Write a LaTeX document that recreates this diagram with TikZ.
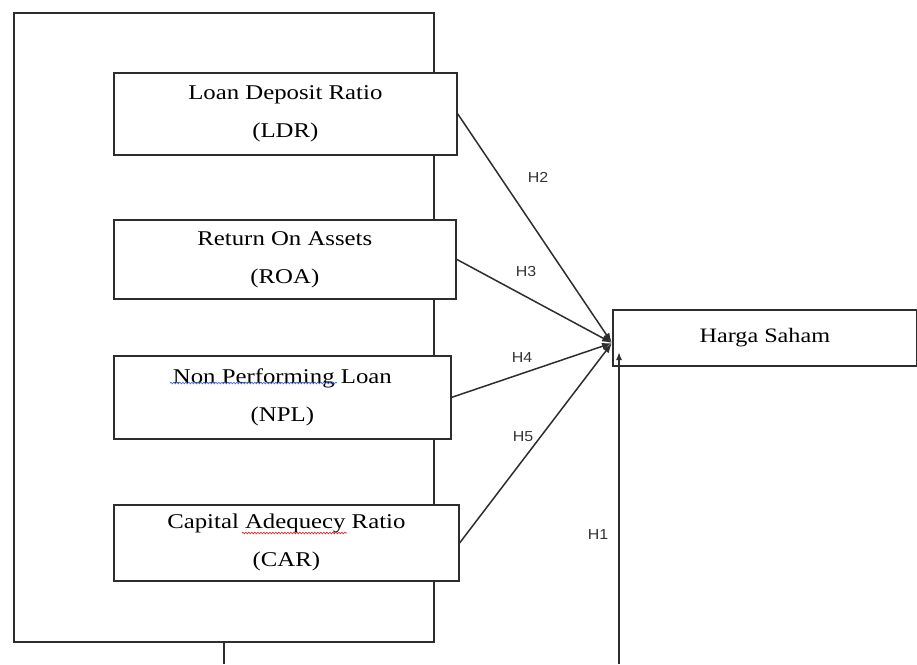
\documentclass[tikz,border=0pt]{standalone}
\usepackage{fontspec}
\setmainfont{Liberation Serif}
\newfontfamily\boxfont{Liberation Serif}[FakeStretch=1.18]
\newfontfamily\labfont{Liberation Sans}[FakeStretch=1.1]
\usepackage{tikz}
\usetikzlibrary{arrows.meta,positioning,decorations.pathmorphing}
\definecolor{linegray}{RGB}{45,45,45}
\definecolor{squigblue}{RGB}{70,110,210}
\definecolor{squigred}{RGB}{215,45,45}

\begin{document}
\begin{tikzpicture}[x=1pt,y=-1pt,
  varbox/.style={draw=linegray,line width=1.7pt,anchor=north west,inner sep=0pt,align=center,
                 font=\boxfont\fontsize{21}{38}\selectfont},
  hyp/.style={draw=linegray,line width=1.5pt,-{Latex[length=10pt,width=7pt]}},
  hlab/.style={font=\labfont\fontsize{14.5}{16}\selectfont,text=black!80}]
  \useasboundingbox (0,0) rectangle (917,664);

  % ---- outer frame ----
  \node[draw=linegray,line width=1.7pt,anchor=north west,inner sep=0pt,
        minimum width=420,minimum height=629] (outer) at (13,12) {};
  \coordinate (h1foot) at (619,664);
  \coordinate (outfoot) at (outer.south |- h1foot);
  \draw[linegray,line width=1.7pt] (outer.south) -- (outfoot);

  % ---- independent variables ----
  \foreach \nm/\y/\w/\h/\first/\second in {ldr/72/343/82/{Loan Deposit Ratio}/LDR,
                                           roa/219/342/79/{Return On Assets}/ROA,
                                           npl/355/337/83/{Non Performing Loan}/NPL,
                                           car/504/345/76/{Capital Adequecy Ratio}/CAR}{
    \node[varbox,fill=white,minimum width=\w,minimum height=\h] (\nm) at (113,\y) {\first\\(\second)};
  }
  % spell-check marks
  \draw[squigblue,line width=0.7pt,decorate,decoration={snake,amplitude=0.8pt,segment length=3pt}]
    (170,383) -- (337,383);
  \draw[squigred,line width=0.7pt,decorate,decoration={snake,amplitude=0.8pt,segment length=3pt}]
    (242,533) -- (347,533);

  % ---- dependent variable ----
  \node[varbox,minimum width=304,minimum height=56,font=\boxfont\fontsize{20.5}{24}\selectfont]
    (hs) at (612,309) {\raisebox{3pt}{Harga Saham}};
  \coordinate (tip) at (612,343);

  % ---- hypotheses ----
  \foreach \nm in {ldr,roa,npl,car}{\draw[hyp] (\nm.east) -- (tip);}
  \coordinate (h1tip) at (619,352);
  \draw[hyp,-{Latex[length=8pt,width=6pt]}] (h1foot) -- (h1tip);

  \node[hlab] (lh2) at (538,177) {H2};
  \node[hlab] (lh3) at (526,272) {H3};
  \node[hlab] (lh4) at (522,358) {H4};
  \node[hlab] (lh5) at (523,437) {H5};
  \node[hlab] (lh1) at (598,535) {H1};
\end{tikzpicture}
\end{document}
